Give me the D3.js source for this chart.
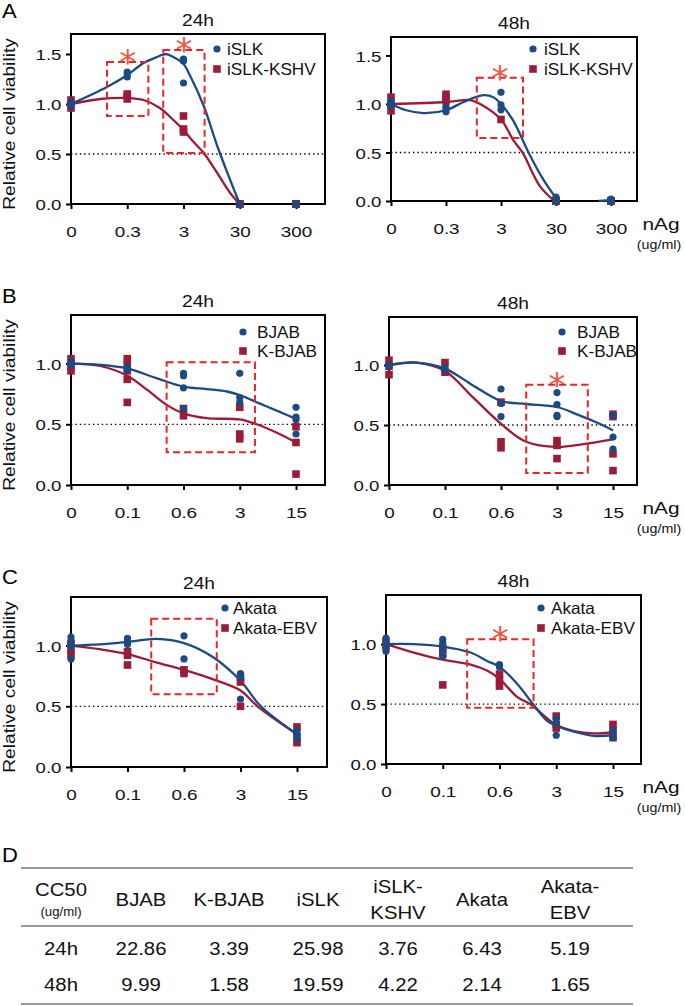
<!DOCTYPE html>
<html><head><meta charset="utf-8">
<script src="https://cdn.jsdelivr.net/npm/d3@7"></script>
<style>body{margin:0;background:#fff} svg{display:block;font-family:"Liberation Sans",Arial,sans-serif}</style>
</head><body><svg id="c" width="685" height="1006"></svg>
<script>
// ---------- data ----------
const dosesA = ["0","0.3","3","30","300"];
const dosesBC = ["0","0.1","0.6","3","15"];
const yTicksA = [0, 0.5, 1.0, 1.5];
const yTicksBC = [0, 0.5, 1.0];

// replicate values per dose (index 0..4)
const A24_iSLK = [[1.0,0.98,1.02],[1.32,1.27,1.30],[1.45,1.43,1.21],[0,0,0],[0,0,0]];
const A24_KSHV = [[0.96,1.0,1.04],[1.10,1.05,1.08],[0.88,0.75,0.72],[0,0,0],[0,0,0]];
const A48_iSLK = [[1.03,1.0,0.98],[0.97,0.92,0.95],[1.12,0.99,0.94],[0.04,0.01,0.0],[0.02,0.01,0.0]];
const A48_KSHV = [[1.07,1.0,0.93],[1.10,1.06,1.03],[0.84],[0,0,0],[0,0,0]];
const B24_BJAB = [[1.02,1.0,0.99],[0.97,0.95],[0.92,0.90,0.80,0.63],[0.92,0.72,0.68],[0.64,0.56,0.54,0.42]];
const B24_KBJAB = [[1.04,0.98,0.94],[1.04,0.99,0.94,0.87,0.68],[0.63,0.57],[0.64,0.42,0.38],[0.48,0.35,0.09]];
const B48_BJAB = [[1.0,0.99],[0.98,0.96],[0.80,0.68,0.57],[0.77,0.67,0.58,0.57],[0.58,0.40,0.30]];
const B48_KBJAB = [[1.04,0.99,0.92],[1.02,0.94],[0.69,0.36,0.31],[0.37,0.33,0.22],[0.59,0.57,0.26,0.12]];
const C24_Akata = [[1.07,1.03,0.99,0.89],[1.06,1.03,1.01],[1.08,0.89],[0.77,0.74,0.56],[0.30,0.27,0.23]];
const C24_EBV = [[1.02,0.97,0.92],[0.95,0.92,0.84],[0.80,0.77],[0.74,0.70,0.50],[0.33,0.25,0.20]];
const C48_Akata = [[1.05,1.02,0.98,0.94],[1.04,1.01,0.96,0.90],[0.83,0.81],[0.38,0.34,0.24],[0.28,0.22]];
const C48_EBV = [[1.02,0.98],[0.97,0.92,0.66],[0.75,0.70,0.65],[0.40,0.33,0.30],[0.33,0.28,0.22]];

// fitted curves: [dose index position, viability]
const A24_fitBlue = [[0,1.0],[0.64,1.17],[1.0,1.29],[1.29,1.41],[1.53,1.47],[1.68,1.50],[1.82,1.47],[2.0,1.40],[2.12,1.28],[2.36,0.98],[2.6,0.58],[2.83,0.24],[3.0,0.0]];
const A24_fitRed = [[0,1.0],[0.52,1.05],[1.0,1.06],[1.29,1.04],[1.58,0.96],[1.82,0.84],[2.0,0.74],[2.18,0.62],[2.36,0.51],[2.6,0.31],[2.83,0.11],[3.0,0.0]];
const A48_fitBlue = [[0,1.0],[0.28,0.935],[0.59,0.905],[1.0,0.935],[1.32,1.02],[1.68,1.09],[1.86,1.07],[2.0,1.0],[2.22,0.83],[2.5,0.5],[2.77,0.22],[3.0,0.03]];
const A48_fitBlueTail = [[3.77,0.0],[4.0,0.01]];
const A48_fitRed = [[0,1.0],[1.0,1.02],[1.44,1.04],[1.62,1.0],[2.0,0.84],[2.22,0.63],[2.39,0.5],[2.71,0.15],[2.95,0.01]];
const B24_fitBlue = [[0,1.0],[0.52,0.99],[1.0,0.96],[1.52,0.88],[2.0,0.81],[2.41,0.79],[2.77,0.77],[3.0,0.74],[3.36,0.67],[3.72,0.6],[4.0,0.545]];
const B24_fitRed = [[0,1.0],[0.52,0.98],[1.0,0.9],[1.35,0.785],[1.7,0.66],[2.0,0.59],[2.41,0.55],[3.0,0.54],[3.3,0.5],[3.66,0.43],[4.0,0.35]];
const B48_fitBlue = [[0,1.0],[0.49,1.02],[1.0,0.97],[1.5,0.83],[2.0,0.70],[2.45,0.675],[3.0,0.65],[3.4,0.58],[3.76,0.51],[4.0,0.455]];
const B48_fitRed = [[0,1.0],[0.49,1.02],[1.0,0.95],[1.5,0.73],[2.0,0.51],[2.45,0.36],[3.0,0.317],[3.47,0.34],[4.0,0.38]];
const C24_fitBlue = [[0,1.0],[0.51,1.01],[1.0,1.03],[1.52,1.055],[2.0,1.02],[2.53,0.9],[3.0,0.71],[3.36,0.5],[4.0,0.27]];
const C24_fitRed = [[0,1.0],[0.51,0.97],[1.0,0.93],[1.52,0.86],[2.0,0.8],[2.53,0.72],[3.0,0.63],[3.3,0.5],[4.0,0.27]];
const C48_fitBlue = [[0,1.0],[0.49,1.0],[1.0,0.98],[1.49,0.93],[1.78,0.86],[2.0,0.81],[2.31,0.67],[2.59,0.5],[2.84,0.36],[3.0,0.32],[3.31,0.27],[3.66,0.235],[4.0,0.24]];
const C48_fitRed = [[0,1.0],[0.49,0.93],[1.0,0.87],[1.49,0.83],[1.78,0.78],[2.0,0.71],[2.31,0.56],[2.54,0.5],[3.0,0.325],[3.31,0.275],[3.66,0.255],[4.0,0.265]];

// significance boxes: [index from, index to, value low, value high, asterisk?]
const A24_boxes = [[0.64,1.375,0.88,1.42,true],[1.64,2.375,0.51,1.54,true]];
const A48_boxes = [[1.56,2.4,0.65,1.27,true]];
const B24_boxes = [[1.7,3.27,0.27,1.01,false]];
const B48_boxes = [[2.45,3.55,0.10,0.835,true]];
const C24_boxes = [[1.42,2.58,0.6,1.22,false]];
const C48_boxes = [[1.43,2.6,0.47,1.04,true]];

// table D
const tableHead = [["BJAB"],["K-BJAB"],["iSLK"],["iSLK-","KSHV"],["Akata"],["Akata-","EBV"]];
const tableRows = ["24h","48h"];
const cc50_24h = [22.86,3.39,25.98,3.76,6.43,5.19];
const cc50_48h = [9.99,1.58,19.59,4.22,2.14,1.65];

// ---------- style ----------
const BLUE = "#1c4a82", RED = "#9c1c38", BOX = "#e8252a", AST = "#f2553f";

const svg = d3.select("#c");

function txt(g, x, y, s, size, anchor, sx, fill) {
  return g.append("text")
    .attr("transform", `translate(${x},${y}) scale(${sx||1},1)`)
    .attr("font-size", size).attr("text-anchor", anchor || "middle")
    .attr("fill", fill || "#111").text(s);
}

const panels = [
  {L:71,T:34,R:325,B:204,x1:296,ymax:1.7,yt:yTicksA,doses:dosesA,title:"24h",letter:"A",
   blue:A24_iSLK,red:A24_KSHV,fb:[A24_fitBlue],fr:A24_fitRed,boxes:A24_boxes,
   names:["iSLK","iSLK-KSHV"],lg:[217,49,20,10],ylab:true,unit:false},
  {L:391,T:37,R:637,B:201,x1:611,ymax:1.69,yt:yTicksA,doses:dosesA,title:"48h",
   blue:A48_iSLK,red:A48_KSHV,fb:[A48_fitBlue,A48_fitBlueTail],fr:A48_fitRed,boxes:A48_boxes,
   names:["iSLK","iSLK-KSHV"],lg:[533,49,20,11],ylab:false,unit:true},
  {L:71,T:315,R:325,B:485,x1:296,ymax:1.4,yt:yTicksBC,doses:dosesBC,title:"24h",letter:"B",
   blue:B24_BJAB,red:B24_KBJAB,fb:[B24_fitBlue],fr:B24_fitRed,boxes:B24_boxes,
   names:["BJAB","K-BJAB"],lg:[243,332,19,14],ylab:true,unit:false},
  {L:389,T:317,R:637,B:485,x1:613,ymax:1.4,yt:yTicksBC,doses:dosesBC,title:"48h",
   blue:B48_BJAB,red:B48_KBJAB,fb:[B48_fitBlue],fr:B48_fitRed,boxes:B48_boxes,
   names:["BJAB","K-BJAB"],lg:[562,332,19,15],ylab:false,unit:true},
  {L:71,T:597,R:327,B:767,x1:297,ymax:1.4,yt:yTicksBC,doses:dosesBC,title:"24h",letter:"C",
   blue:C24_Akata,red:C24_EBV,fb:[C24_fitBlue],fr:C24_fitRed,boxes:C24_boxes,
   names:["Akata","Akata-EBV"],lg:[225,608,20,8],ylab:true,unit:false},
  {L:386,T:595,R:641,B:764,x1:613,ymax:1.41,yt:yTicksBC,doses:dosesBC,title:"48h",
   blue:C48_Akata,red:C48_EBV,fb:[C48_fitBlue],fr:C48_fitRed,boxes:C48_boxes,
   names:["Akata","Akata-EBV"],lg:[541,608,20,10],ylab:false,unit:true}
];

panels.forEach(p => {
  const g = svg.append("g");
  const x = d3.scaleLinear().domain([0,4]).range([p.L,p.x1]);
  const y = d3.scaleLinear().domain([0,p.ymax]).range([p.B,p.T]);

  // dotted 50% line
  g.append("line").attr("x1",p.L).attr("x2",p.R).attr("y1",y(0.5)).attr("y2",y(0.5))
    .attr("stroke","#000").attr("stroke-width",1.3).attr("stroke-dasharray","1.4,3");

  // axes
  const xa = g.append("g").attr("transform",`translate(0,${p.B})`)
    .call(d3.axisBottom(x).tickValues([0,1,2,3,4]).tickFormat(i => p.doses[i]).tickSize(5));
  const ya = g.append("g").attr("transform",`translate(${p.L},0)`)
    .call(d3.axisLeft(y).tickValues(p.yt).tickFormat(d3.format(".1f")).tickSize(5));
  [xa,ya].forEach(a => {
    a.select(".domain").remove();
    a.selectAll("line").attr("stroke","#000").attr("stroke-width",2);
    a.selectAll("text").attr("font-size",15.5).attr("fill","#111")
      .attr("font-family",'"Liberation Sans",Arial,sans-serif');
  });
  xa.selectAll("text").attr("y",33).attr("dy",null).attr("transform","scale(1.22,1)");
  ya.selectAll("text").attr("x",-8).attr("dy","0.36em").attr("transform","scale(1.2,1)");

  // frame
  g.append("rect").attr("x",p.L).attr("y",p.T).attr("width",p.R-p.L).attr("height",p.B-p.T)
    .attr("fill","none").attr("stroke","#000").attr("stroke-width",2);

  // fitted lines
  const line = d3.line().x(d => x(d[0])).y(d => y(d[1])).curve(d3.curveCatmullRom.alpha(0.5));
  g.append("path").attr("d",line(p.fr)).attr("fill","none").attr("stroke",RED).attr("stroke-width",2.3);
  p.fb.forEach(f => g.append("path").attr("d",line(f)).attr("fill","none").attr("stroke",BLUE).attr("stroke-width",2.3));

  // points
  const redPts = p.red.flatMap((vals,i) => vals.map(v => [i,v]));
  const bluePts = p.blue.flatMap((vals,i) => vals.map(v => [i,v]));
  g.selectAll(".sq").data(redPts).enter().append("rect")
    .attr("x",d => x(d[0])-3.8).attr("y",d => y(d[1])-3.8).attr("width",7.6).attr("height",7.6)
    .attr("fill",RED);
  g.selectAll(".ci").data(bluePts).enter().append("circle")
    .attr("cx",d => x(d[0])).attr("cy",d => y(d[1])).attr("r",3.6).attr("fill",BLUE);

  // significance boxes
  p.boxes.forEach(b => {
    g.append("rect").attr("x",x(b[0])).attr("y",y(b[3])).attr("width",x(b[1])-x(b[0]))
      .attr("height",y(b[2])-y(b[3])).attr("fill","none").attr("stroke",BOX)
      .attr("stroke-width",2).attr("stroke-dasharray","7,4");
    if (b[4]) txt(g, (x(b[0])+x(b[1]))/2, y(b[3])+12, "*", 34, "middle", 1, AST)
      .attr("font-family",'"DejaVu Sans",sans-serif').attr("font-weight","normal");
  });

  // legend
  const [lx,ly,dy,tx] = p.lg;
  g.append("circle").attr("cx",lx).attr("cy",ly).attr("r",3.6).attr("fill",BLUE);
  g.append("rect").attr("x",lx-3.8).attr("y",ly+dy-3.8).attr("width",7.6).attr("height",7.6).attr("fill",RED);
  txt(g, lx+tx, ly+6, p.names[0], 16.5, "start", 1.04);
  txt(g, lx+tx, ly+dy+6, p.names[1], 16.5, "start", 1.04);

  // title
  txt(g, (p.L+p.R)/2, p.T-8, p.title, 16, "middle", 1.2);
  if (p.letter) txt(g, 2, p.T-(p.letter==="A"?16:p.letter==="B"?12:13), p.letter, 20, "start", 1.1, "#000");
  if (p.ylab) {
    g.append("text").attr("transform",`translate(15,${(p.T+p.B)/2+5}) rotate(-90) scale(1.2,1)`)
      .attr("font-size",16).attr("text-anchor","middle").attr("fill","#111").text("Relative cell viability");
  }
  if (p.unit) {
    txt(g, 661, p.B+29, "nAg", 16, "middle", 1.3);
    txt(g, 659, p.B+48, "(ug/ml)", 13, "middle", 1.1);
  }
});

// ---------- table D ----------
const tg = svg.append("g");
txt(tg, 2, 862, "D", 20, "start", 1.1, "#000");
const colPos = [61,141,229,318,398,482,570];
[868,926,1004].forEach(yy => tg.append("line").attr("x1",21).attr("x2",633).attr("y1",yy).attr("y2",yy)
  .attr("stroke","#777").attr("stroke-width",1.5));
txt(tg, colPos[0], 896, "CC50", 18, "middle", 1.13);
txt(tg, colPos[0], 916, "(ug/ml)", 12, "middle", 1.1);
tableHead.forEach((h,i) => {
  if (h.length === 1) txt(tg, colPos[i+1], 906, h[0], 18, "middle", 1.13);
  else { txt(tg, colPos[i+1], 893, h[0], 18, "middle", 1.13); txt(tg, colPos[i+1], 919, h[1], 18, "middle", 1.13); }
});
[cc50_24h, cc50_48h].forEach((row,r) => {
  const yy = r === 0 ? 955 : 991;
  txt(tg, colPos[0], yy, tableRows[r], 18, "middle", 1.13);
  row.forEach((v,i) => txt(tg, colPos[i+1], yy, v.toFixed(2), 18, "middle", 1.13));
});
</script></body></html>
